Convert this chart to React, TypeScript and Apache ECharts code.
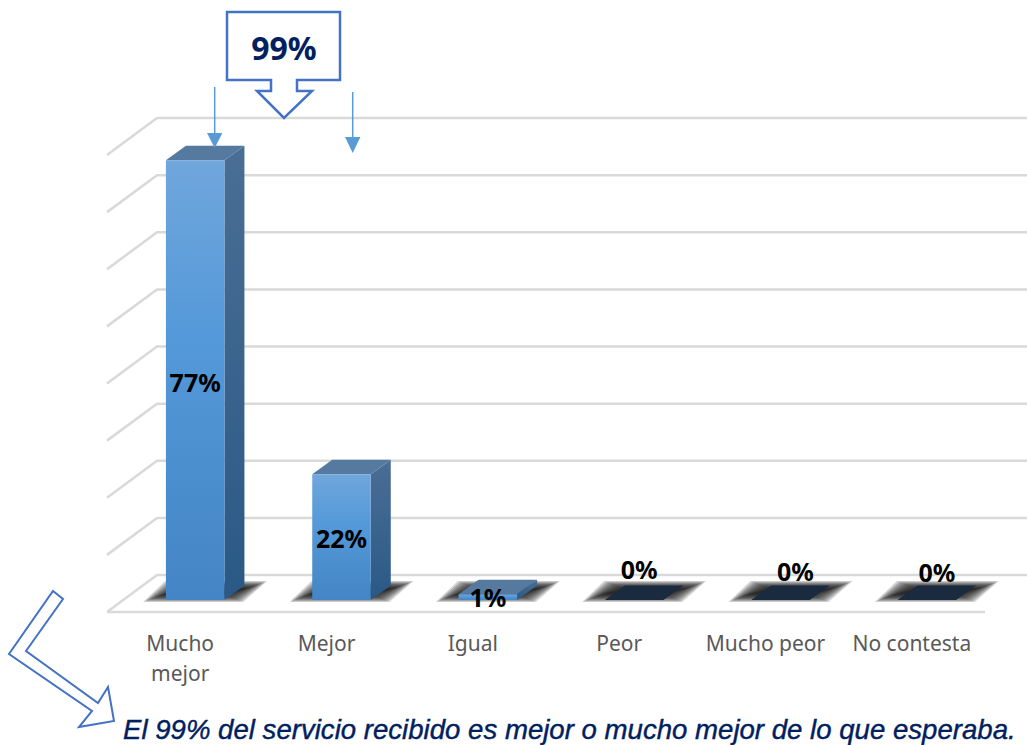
import React, { useEffect, useRef } from "react";
import * as echarts from "echarts";

const categories = ["Mucho\nmejor", "Mejor", "Igual", "Peor", "Mucho peor", "No contesta"];
const values = [77, 22, 1, 0, 0, 0];
const gridTicks = [0, 10, 20, 30, 40, 50, 60, 70, 80];
const calloutText = "99%";
const footerText = "El 99% del servicio recibido es mejor o mucho mejor de lo que esperaba.";
// hand-placed data label offsets [dx, dy] from the default spot of each bar
const labelNudges = [[0, 2], [0, 1], [0, 0], [5, -31], [15, -29], [10, -28]];

const BLUE = "#4472c4";
const ARROW = "#5b9bd5";
const NAVY = "#002060";

function renderGridLine(params: any, api: any) {
  const cs = params.coordSys;
  const y = api.coord([0, api.value(1)])[1];
  const isFloor = api.value(1) === 0;
  const style = { stroke: "#d9d9d9", lineWidth: 2.5, fill: "none" };
  const children: any[] = [
    { type: "polyline", shape: { points: [[cs.x, y], [cs.x + 50, y - 37], [1027, y - 37]] }, style },
  ];
  if (isFloor) {
    children.push({ type: "line", shape: { x1: cs.x, y1: y, x2: cs.x + cs.width, y2: y }, style });
  }
  return { type: "group", children };
}

function softShadow(cx: number, b: number) {
  const layers: any[] = [];
  for (let i = 0; i < 12; i++) {
    const h = i * 1.9;
    const v = i * 0.75;
    layers.push({
      type: "polygon",
      shape: {
        points: [
          [cx - 52 + h, b + 2 - v],
          [cx + 48 - h, b + 2 - v],
          [cx + 72 - h, b - 19 + v],
          [cx - 30 + h, b - 19 + v],
        ],
      },
      style: { fill: "rgba(20,20,20,0.18)" },
    });
  }
  return layers;
}

function renderBar(params: any, api: any) {
  const idx = api.value(0);
  const val = api.value(1);
  const [c0, y0] = api.coord([idx, 0]);
  const [, y1] = api.coord([idx, val]);
  const w = api.size([1, 0])[0] * 0.4;
  const dx = 15, dy = -12; // bar front plane relative to the floor front
  const ox = 20, oy = -14.5; // bar depth
  const l = c0 + dx - w / 2;
  const r = l + w;
  const b = y0 + dy;
  const t = y1 + dy;
  const cx = c0 + dx;
  const children: any[] = softShadow(cx, b);
  if (val > 0) {
    children.push(
      {
        type: "polygon",
        shape: { points: [[r, t], [r + ox, t + oy], [r + ox, b + oy], [r, b]] },
        style: {
          fill: new echarts.graphic.LinearGradient(0, 0, 0, 1, [
            { offset: 0, color: "#4a6e94" },
            { offset: 1, color: "#2a5986" },
          ]),
        },
      },
      {
        type: "polygon",
        shape: { points: [[l, t], [r, t], [r + ox, t + oy], [l + ox, t + oy]] },
        style: { fill: "#55799f" },
      },
      {
        type: "rect",
        shape: { x: l, y: t, width: w, height: b - t },
        style: {
          fill: new echarts.graphic.LinearGradient(0, 0, 0, 1, [
            { offset: 0, color: "#70a6dc" },
            { offset: 0.4, color: "#5499d9" },
            { offset: 1, color: "#4385c5" },
          ]),
        },
      }
    );
  } else {
    children.push({
      type: "polygon",
      shape: { points: [[l, b], [r, b], [r + ox, b + oy], [l + ox, b + oy]] },
      style: { fill: "#1a2b40" },
    });
  }
  const nudge = labelNudges[idx];
  children.push({
    type: "text",
    z2: 50,
    style: {
      text: `${val}%`,
      x: cx + nudge[0],
      y: (t + b) / 2 + nudge[1],
      align: "center",
      verticalAlign: "middle",
      fill: "#000000",
      font: 'bold 25px "Noto Sans"',
    },
  });
  return { type: "group", children };
}

export default function App() {
  const ref = useRef<HTMLDivElement>(null);
  useEffect(() => {
    const chart = echarts.init(ref.current!, undefined, { renderer: "svg" });
    chart.setOption({
      animation: false,
      backgroundColor: "#ffffff",
      grid: { left: 107, width: 878, top: 155, height: 457, containLabel: false },
      xAxis: {
        type: "category",
        data: categories,
        axisLine: { show: false },
        axisTick: { show: false },
        axisLabel: {
          interval: 0,
          margin: 16,
          color: "#595959",
          fontFamily: "Noto Sans",
          fontSize: 21,
          lineHeight: 30,
        },
      },
      yAxis: { type: "value", min: 0, max: 80, interval: 10, show: false },
      series: [
        {
          type: "custom",
          z: 1,
          clip: false,
          silent: true,
          renderItem: renderGridLine,
          encode: { x: 0, y: 1 },
          data: gridTicks.map((t) => [0, t]),
        },
        {
          type: "custom",
          z: 2,
          clip: false,
          silent: true,
          renderItem: renderBar,
          encode: { x: 0, y: 1 },
          data: values.map((v, i) => [i, v]),
        },
      ],
      graphic: [
        {
          type: "polygon",
          z: 10,
          shape: {
            points: [[227, 12], [340, 12], [340, 80], [297, 80], [297, 91], [312, 91], [284, 118], [257, 91], [271, 91], [271, 80], [227, 80]],
          },
          style: { fill: "#ffffff", stroke: BLUE, lineWidth: 2.5 },
        },
        {
          type: "text",
          z: 11,
          x: 284,
          y: 47,
          style: { text: calloutText, align: "center", verticalAlign: "middle", fill: NAVY, font: 'bold 32px "Noto Sans"' },
        },
        { type: "line", z: 10, shape: { x1: 214.7, y1: 87, x2: 214.7, y2: 134 }, style: { stroke: ARROW, lineWidth: 1.5 } },
        { type: "polygon", z: 10, shape: { points: [[207, 133], [222.4, 133], [214.7, 148]] }, style: { fill: ARROW } },
        { type: "line", z: 10, shape: { x1: 352.7, y1: 92, x2: 352.7, y2: 138 }, style: { stroke: ARROW, lineWidth: 1.5 } },
        { type: "polygon", z: 10, shape: { points: [[345, 137], [360.4, 137], [352.7, 153]] }, style: { fill: ARROW } },
        {
          type: "polygon",
          z: 10,
          shape: {
            points: [[53, 591], [63, 599], [26, 651], [98, 703], [108, 687], [114, 721], [79, 727], [92, 711], [9, 654]],
          },
          style: { fill: "#ffffff", stroke: BLUE, lineWidth: 2 },
        },
        {
          type: "text",
          z: 11,
          x: 123,
          y: 729,
          style: { text: footerText, align: "left", verticalAlign: "middle", fill: NAVY, stroke: NAVY, lineWidth: 0.4, font: 'italic 27.6px "Liberation Sans"' },
        },
      ],
    });
    return () => chart.dispose();
  }, []);
  return <div ref={ref} style={{ position: "fixed", left: 0, top: 0, width: 1027, height: 745 }} />;
}
